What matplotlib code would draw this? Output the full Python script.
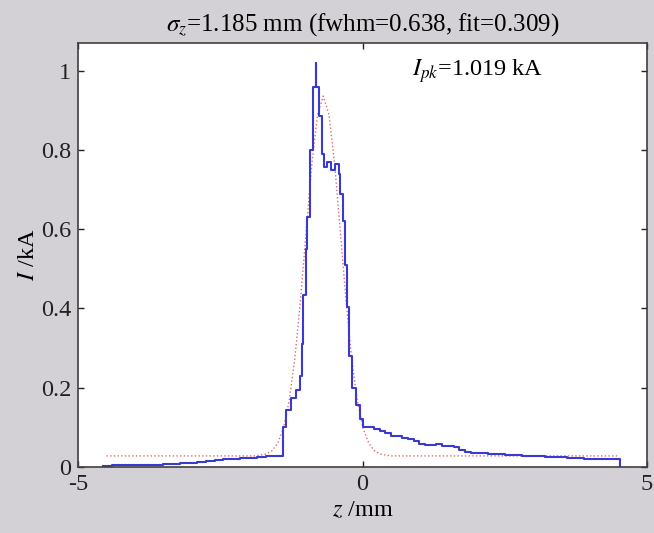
import matplotlib
matplotlib.use("Agg")
import matplotlib.pyplot as plt

# DATA
# measured current profile (step histogram), z in mm, I in kA
Z_PROFILE = [-4.56, -4.40, -4.25, -4.10, -3.95, -3.80, -3.65, -3.50, -3.35, -3.20,
             -3.05, -2.90, -2.75, -2.60, -2.45, -2.30, -2.15, -2.00, -1.85, -1.70,
             -1.55, -1.40, -1.34, -1.25, -1.16, -1.10, -1.07, -1.04, -1.00, -0.97,
             -0.93, -0.87, -0.825, -0.81, -0.76, -0.72, -0.67, -0.62, -0.56, -0.49,
             -0.42, -0.39, -0.35, -0.31, -0.28, -0.23, -0.18, -0.11, -0.05, 0.00,
             0.10, 0.20, 0.30, 0.40, 0.50, 0.60, 0.70, 0.80, 0.90, 1.00,
             1.10, 1.20, 1.30, 1.40, 1.50, 1.60, 1.70, 1.80, 1.90, 2.00,
             2.10, 2.20, 2.30, 2.40, 2.50, 2.60, 2.70, 2.80, 2.90, 3.00,
             3.10, 3.20, 3.30, 3.40, 3.50, 3.60, 3.70, 3.80, 3.90, 4.00,
             4.10, 4.20, 4.30, 4.40, 4.53]
I_PROFILE = [0.003, 0.004, 0.004, 0.005, 0.005, 0.006, 0.006, 0.007, 0.008, 0.010,
             0.011, 0.012, 0.014, 0.017, 0.019, 0.020, 0.022, 0.023, 0.026, 0.027,
             0.028, 0.100, 0.145, 0.175, 0.195, 0.230, 0.310, 0.435, 0.550, 0.630,
             0.800, 0.960, 1.019, 0.960, 0.886, 0.790, 0.757, 0.770, 0.750, 0.765,
             0.740, 0.690, 0.620, 0.510, 0.405, 0.280, 0.200, 0.157, 0.120, 0.101,
             0.102, 0.097, 0.092, 0.086, 0.078, 0.077, 0.074, 0.070, 0.066, 0.058,
             0.056, 0.055, 0.057, 0.054, 0.052, 0.050, 0.042, 0.037, 0.036, 0.036,
             0.035, 0.034, 0.033, 0.032, 0.031, 0.030, 0.030, 0.029, 0.028, 0.028,
             0.027, 0.026, 0.025, 0.024, 0.024, 0.023, 0.022, 0.023, 0.021, 0.021,
             0.020, 0.020, 0.019, 0.021, 0.0]

# gaussian fit (dotted)
Z_FIT = [-4.50, -1.89, -1.79, -1.69, -1.59, -1.49, -1.39, -1.29, -1.19, -1.09,
         -0.99, -0.89, -0.79, -0.69, -0.59, -0.49, -0.39, -0.29, -0.19, -0.09,
         0.01, 0.11, 0.21, 0.31, 0.41, 0.51, 4.50]
I_FIT = [0.028, 0.028, 0.030, 0.033, 0.041, 0.060, 0.098, 0.166, 0.273, 0.421,
         0.595, 0.765, 0.890, 0.936, 0.890, 0.765, 0.595, 0.421, 0.273, 0.166,
         0.098, 0.060, 0.041, 0.033, 0.030, 0.028, 0.028]

X_TICKS = [-5, 0, 5]
Y_TICKS = [0, 0.2, 0.4, 0.6, 0.8, 1]
Y_TICK_LABELS = ["0", "0.2", "0.4", "0.6", "0.8", "1"]

TITLE = r"$\sigma_z$=1.185 mm (fwhm=0.638, fit=0.309)"
PEAK_LABEL = r"$I_{pk}$=1.019 kA"

# STYLE
plt.rcParams["font.family"] = ["Liberation Serif", "DejaVu Serif"]
plt.rcParams["mathtext.fontset"] = "stix"
plt.rcParams["axes.unicode_minus"] = False
FONT_SIZE = 17.5
BG = "#d3d1d6"

fig = plt.figure(figsize=(6.54, 5.33), dpi=100, facecolor=BG)
ax = fig.add_axes([78 / 654, 1 - 467 / 533, (647 - 78) / 654, (467 - 43) / 533])

ax.plot(Z_FIT, I_FIT, color="#e06a6a", linestyle=":", linewidth=1.0)
ax.step(Z_PROFILE, I_PROFILE, where="post", color="#3a3ad2", linewidth=1.5)

ax.set_xlim(-5, 5)
ax.set_ylim(0, 1.07)
ax.set_xticks(X_TICKS)
ax.set_yticks(Y_TICKS)
ax.set_yticklabels(Y_TICK_LABELS)
ax.tick_params(direction="in", length=4, width=1, top=True, right=True,
               labelsize=FONT_SIZE, colors="#222222", pad=5)
for s in ax.spines.values():
    s.set_color("#404040")
    s.set_linewidth(1.2)

ax.set_title(TITLE, fontsize=FONT_SIZE + 0.5, pad=9)
ax.set_xlabel(r"$z$ /mm", fontsize=FONT_SIZE, labelpad=4)
ax.set_ylabel(r"$I$ /kA", fontsize=FONT_SIZE, labelpad=1)
ax.text(0.87, 0.987, PEAK_LABEL, fontsize=FONT_SIZE, va="baseline", ha="left")

fig.savefig("out.png", dpi=100, facecolor=BG)
